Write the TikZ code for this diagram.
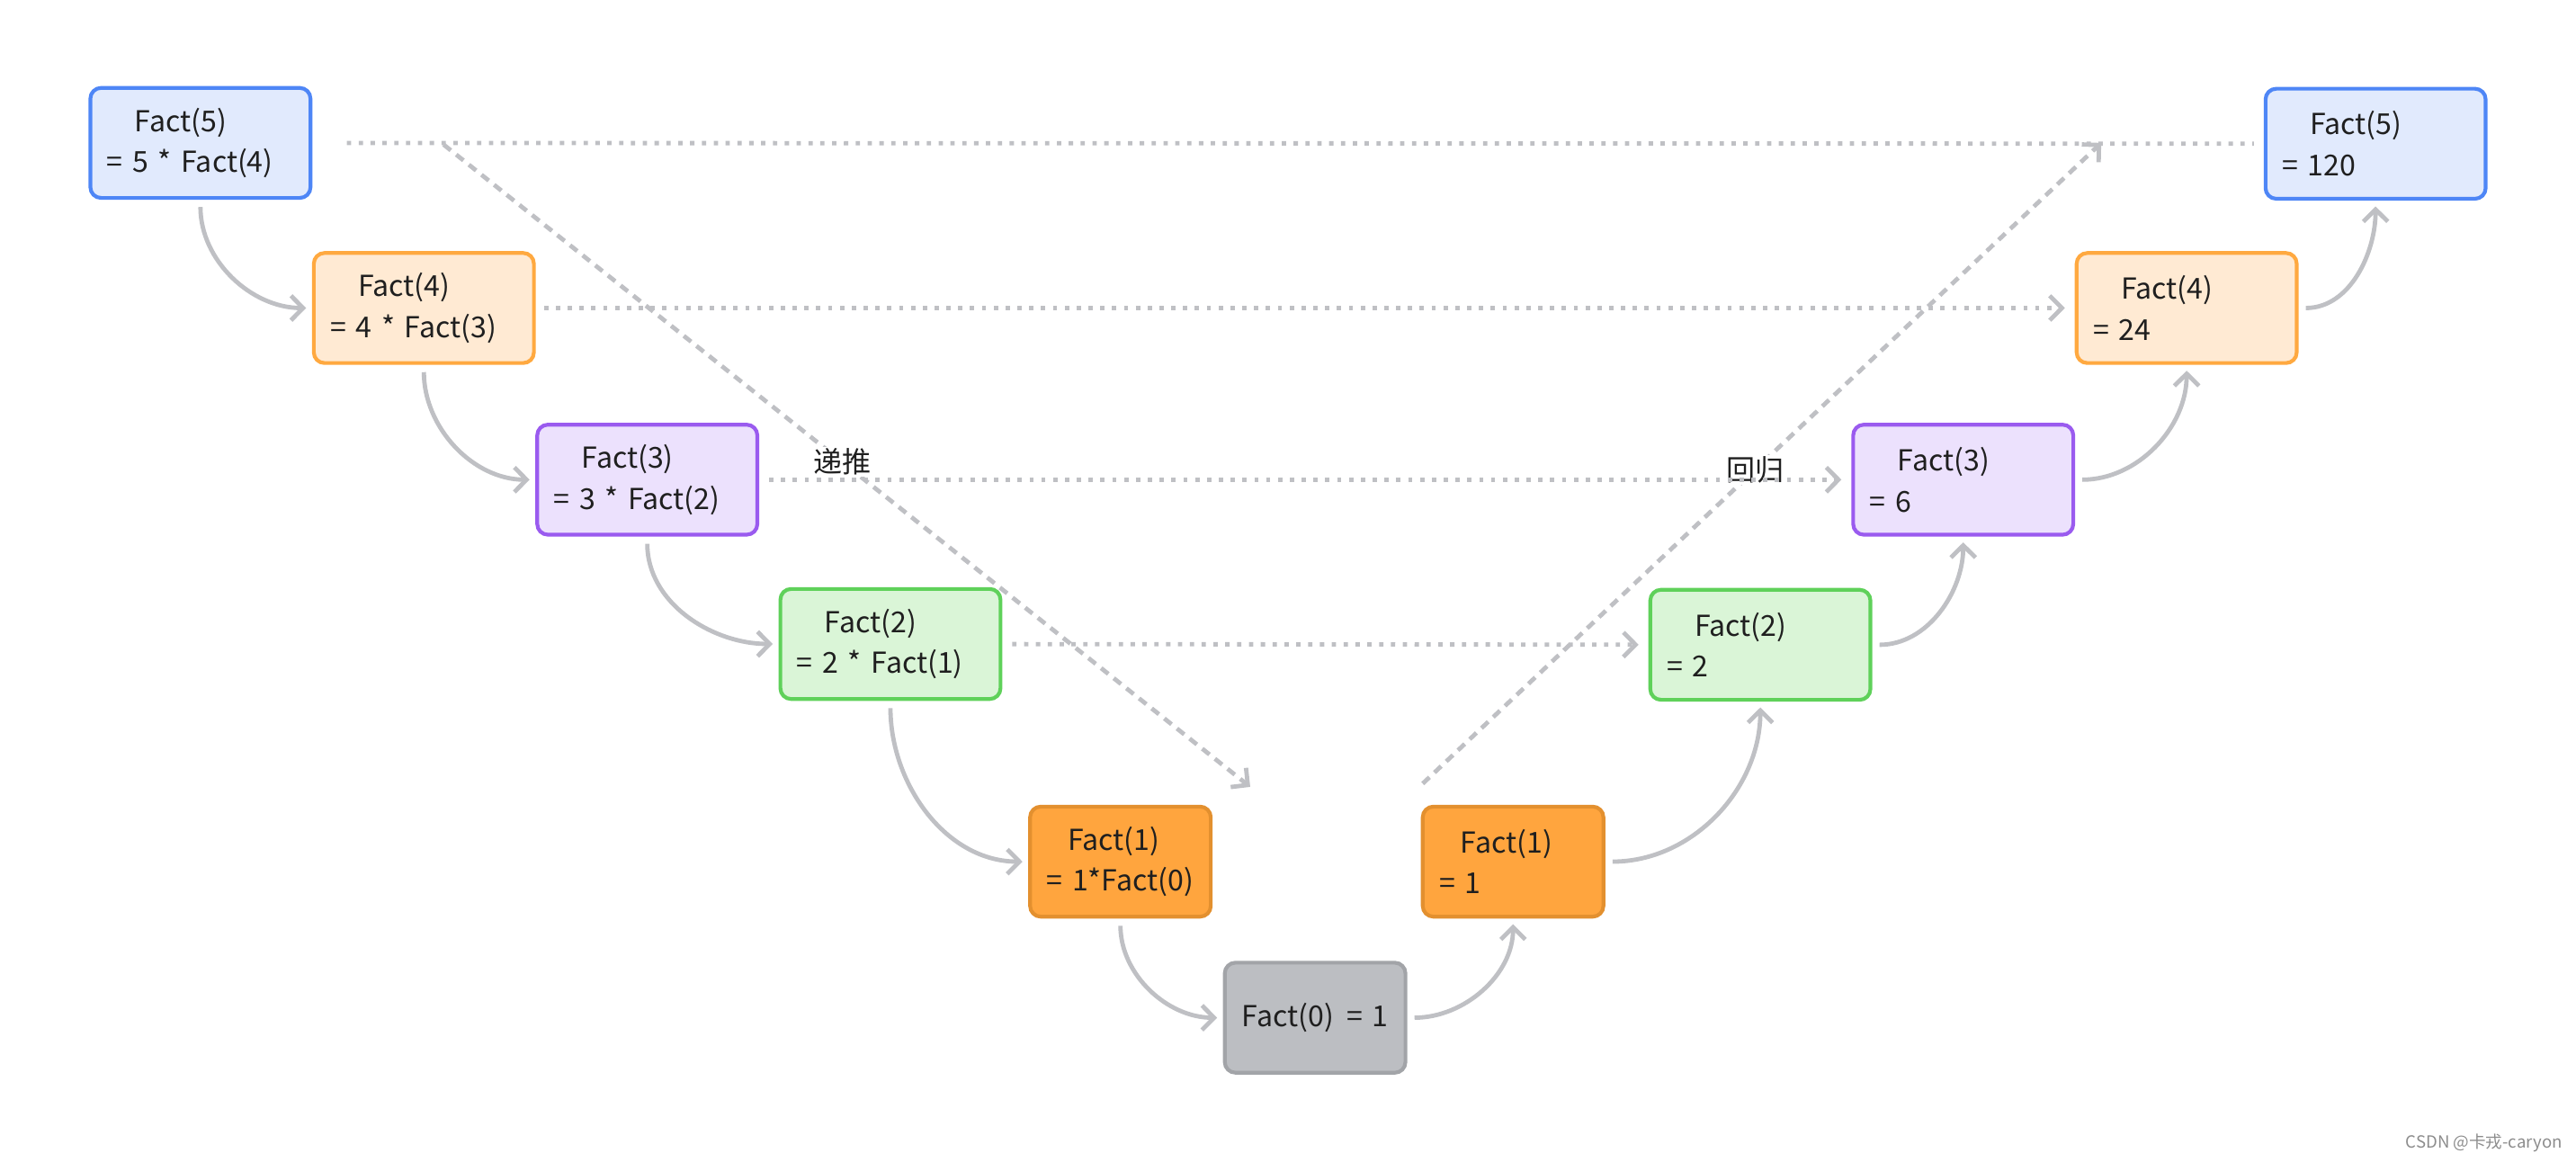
\documentclass[tikz,border=0pt]{standalone}
\usepackage{fontspec}
\setmainfont{Noto Sans CJK SC}
\usetikzlibrary{arrows.meta, positioning}

\definecolor{blueB}{HTML}{4E86F6}
\definecolor{blueF}{HTML}{E1EAFD}
\definecolor{orgB}{HTML}{FFA940}
\definecolor{orgF}{HTML}{FFEAD3}
\definecolor{purB}{HTML}{9A5BEF}
\definecolor{purF}{HTML}{ECE1FD}
\definecolor{grnB}{HTML}{5FD15A}
\definecolor{grnF}{HTML}{DAF5D7}
\definecolor{oneF}{HTML}{FFA53E}
\definecolor{oneB}{HTML}{E3902F}
\definecolor{zeroF}{HTML}{BCBEC2}
\definecolor{zeroB}{HTML}{A2A4A8}
\definecolor{lineC}{HTML}{BFC0C4}
\definecolor{inkC}{HTML}{1F1F1F}

\begin{document}
\begin{tikzpicture}[x=0.02cm, y=-0.02cm,
            box/.style={draw, rounded corners=0.13cm, line width=1.3pt, minimum height=1.34cm, text width=2.28cm, inner xsep=0.2cm, inner ysep=0pt, align=left, font=\fontsize{10}{14.2}\selectfont, text=inkC},
            small/.style={text width=1.8cm},
            conn/.style={-{Straight Barb[length=4.2pt, width=8.5pt]}, line width=1.5pt, color=lineC, shorten <=2.5pt, shorten >=2pt},
            dotline/.style={line width=1.5pt, color=lineC, dash pattern=on 1.5pt off 2.6pt},
            dashline/.style={line width=1.5pt, color=lineC, dash pattern=on 3.2pt off 2.4pt},
            tip/.style={-{Straight Barb[length=4.2pt, width=8.5pt]}},
            tag/.style={fill=white, inner sep=0.5pt, font=\fontsize{10}{12}\selectfont, text=inkC}
        ]
        \useasboundingbox (0,0) rectangle (1568,707);

        % descending side
        \node[box, draw=blueB, fill=blueF] (L5) at (122,87) {\hspace*{0.34cm}Fact(5)\\= 5 * Fact(4)};
        \node[box, draw=orgB, fill=orgF] (L4) at (258,187.5) {\hspace*{0.34cm}Fact(4)\\= 4 * Fact(3)};
        \node[box, draw=purB, fill=purF] (L3) at (394,292) {\hspace*{0.34cm}Fact(3)\\= 3 * Fact(2)};
        \node[box, draw=grnB, fill=grnF] (L2) at (542,392) {\hspace*{0.34cm}Fact(2)\\= 2 * Fact(1)};
        \node[box, small, draw=oneB, fill=oneF] (L1) at (682,524.5) {\hspace*{0.26cm}Fact(1)\\= 1*Fact(0)};
        \node[box, small, align=center, draw=zeroB, fill=zeroF] (F0) at (800.5,619.5) {Fact(0)\hspace{0.45em}= 1};

        % returning side
        \node[box, small, draw=oneB, fill=oneF] (R1) at (921,524.5) {\hspace*{0.26cm}Fact(1)\\= 1};
        \node[box, draw=grnB, fill=grnF] (R2) at (1071.5,392.5) {\hspace*{0.34cm}Fact(2)\\= 2};
        \node[box, draw=purB, fill=purF] (R3) at (1195,292) {\hspace*{0.34cm}Fact(3)\\= 6};
        \node[box, draw=orgB, fill=orgF] (R4) at (1331,187.5) {\hspace*{0.34cm}Fact(4)\\= 24};
        \node[box, draw=blueB, fill=blueF] (R5) at (1446,87.5) {\hspace*{0.34cm}Fact(5)\\= 120};

        \draw[conn] (L5) to[out=-90, in=180] (L4);
        \draw[conn] (L4) to[out=-90, in=180] (L3);
        \draw[conn] (L3) to[out=-90, in=180] (L2);
        \draw[conn] (L2) to[out=-90, in=180] (L1);
        \draw[conn] (L1) to[out=-90, in=180] (F0);

        \draw[conn] (F0) to[out=0, in=-90] (R1);
        \draw[conn] (R1) to[out=0, in=-90] (R2);
        \draw[conn] (R2) to[out=0, in=-90] (R3);
        \draw[conn] (R3) to[out=0, in=-90] (R4);
        \draw[conn] (R4) to[out=0, in=-90] (R5);

        \coordinate (pushA) at (270,88);
        \coordinate (pushB) at (761,479);
        \coordinate (backA) at (866,477);
        \coordinate (backB) at (1279,87);

        \draw[dashline, tip] (pushA) -- node[tag, pos=0.494] {递推} (pushB);
        \draw[dashline, tip] (backA) -- node[tag, pos=0.49] {回归} (backB);

        \draw[dotline, shorten <=0.42cm, shorten >=0.12cm] (L5) -- (R5);
        \draw[dotline, tip, shorten <=0.1cm, shorten >=0.12cm] (L4) -- (R4);
        \draw[dotline, tip, shorten <=0.12cm, shorten >=0.12cm] (L3) -- (R3);
        \draw[dotline, tip, shorten <=0.12cm, shorten >=0.12cm] (L2) -- (R2);

        \node[anchor=east, inner sep=0pt, font=\fontsize{5.8}{7}\selectfont, text=black!45] (mark) at (1560,696) {CSDN @卡戎-caryon};
\end{tikzpicture}
\end{document}
